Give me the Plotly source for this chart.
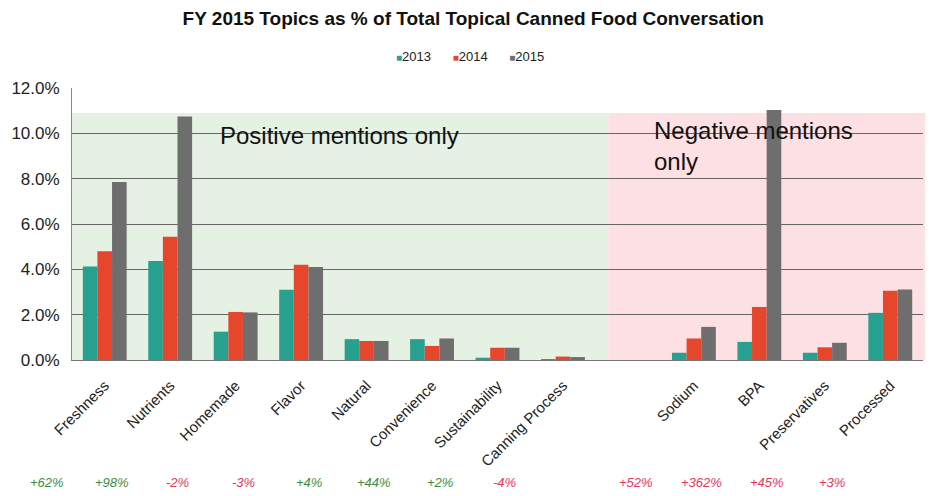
import plotly.graph_objects as go

categories = ["Freshness", "Nutrients", "Homemade", "Flavor", "Natural", "Convenience",
              "Sustainability", "Canning Process", " ", "Sodium", "BPA", "Preservatives", "Processed"]
topics = ["Freshness", "Nutrients", "Homemade", "Flavor", "Natural", "Convenience",
          "Sustainability", "Canning Process", "Sodium", "BPA", "Preservatives", "Processed"]
v2013 = [4.13, 4.37, 1.25, 3.10, 0.92, 0.92, 0.10, 0.02, 0.32, 0.80, 0.32, 2.08]
v2014 = [4.80, 5.44, 2.12, 4.20, 0.84, 0.62, 0.54, 0.15, 0.95, 2.34, 0.56, 3.05]
v2015 = [7.85, 10.74, 2.10, 4.10, 0.84, 0.95, 0.54, 0.13, 1.46, 11.03, 0.76, 3.11]
changes = ["+62%", "+98%", "-2%", "-3%", "+4%", "+44%", "+2%", "-4%", "+52%", "+362%", "+45%", "+3%"]
change_good = [True, True, False, False, True, True, True, False, False, False, False, False]
years = ["2013", "2014", "2015"]
y_ticks = [0, 2, 4, 6, 8, 10, 12]

colors = ["#27a08f", "#e6462b", "#6e6e6e"]
FONT = "Liberation Sans, Arial"

fig = go.Figure()
for name, vals, col in zip(years, [v2013, v2014, v2015], colors):
    fig.add_trace(go.Bar(x=topics, y=vals, name=name, showlegend=False,
                         marker=dict(color=col, line=dict(width=0))))

# compact legend (square + label) as one text line
legend_text = "&nbsp;&nbsp;&nbsp;&nbsp;&nbsp;&nbsp;".join(
    f'<span style="color:{c}; font-size:10px">■</span>{y}' for y, c in zip(years, colors))
fig.add_annotation(xref="paper", yref="paper", x=0.468, y=1.114, xanchor="center", yanchor="middle",
                   text=legend_text, showarrow=False, font=dict(family=FONT, size=13, color="#222"))

# background regions
fig.add_shape(type="rect", xref="paper", yref="y", x0=0, x1=0.63, y0=0, y1=10.9,
              fillcolor="#e5f1e2", line=dict(width=0), layer="below")
fig.add_shape(type="rect", xref="paper", yref="y", x0=0.63, x1=1.012, y0=0, y1=10.9,
              fillcolor="#fde0e3", line=dict(width=0), layer="below")

fig.add_annotation(xref="paper", yref="paper", x=0.172, y=0.827, xanchor="left", yanchor="middle",
                   text="Positive mentions only", showarrow=False,
                   font=dict(family=FONT, size=24, color="#111"))
fig.add_annotation(xref="paper", yref="paper", x=0.681, y=0.90, xanchor="left", yanchor="top",
                   text="Negative mentions<br>only", showarrow=False, align="left",
                   font=dict(family=FONT, size=24, color="#111"))

for t, c, g in zip(topics, changes, change_good):
    fig.add_annotation(x=t, xref="x", yref="paper", y=-0.452, text=c, showarrow=False,
                       xshift=-58, yanchor="middle",
                       font=dict(family=FONT, size=13, style="italic",
                                 color="#3d8c40" if g else "#e8365d"))

fig.update_layout(
    width=925, height=488,
    margin=dict(l=64, r=10, t=80, b=136),
    paper_bgcolor="white", plot_bgcolor="rgba(0,0,0,0)",
    title=dict(text="<b>FY 2015 Topics as % of Total Topical Canned Food Conversation</b>",
               x=0.503, xanchor="center", y=0.9795, yref="container", yanchor="middle",
               font=dict(family=FONT, size=19, color="#111")),
    showlegend=False,
    barmode="group", bargap=0.33, bargroupgap=0,
    font=dict(family=FONT, color="#222"),
)
fig.update_xaxes(type="category", categoryorder="array", categoryarray=categories,
                 tickmode="array", tickvals=categories, ticktext=categories,
                 tickangle=-45, ticks="", ticklabelstandoff=10, automargin=False,
                 tickfont=dict(family=FONT, size=15, color="#222"),
                 showline=True, linecolor="#777", linewidth=1, showgrid=False, range=[-0.5, 12.5])
fig.update_yaxes(range=[0, 12], tickvals=y_ticks, ticktext=[f"{v:.1f}%" for v in y_ticks],
                 showgrid=True, gridcolor="#666", gridwidth=1, zeroline=False, automargin=False,
                 showline=True, linecolor="#888", linewidth=1, ticks="", ticklabelstandoff=8,
                 tickfont=dict(family=FONT, size=17, color="#222"))

fig.write_html("out.html")
